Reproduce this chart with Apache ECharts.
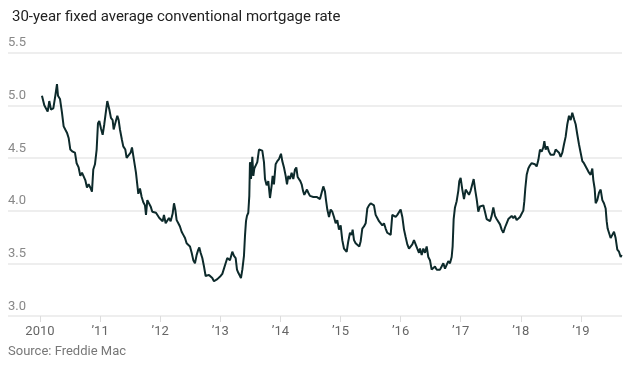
<!DOCTYPE html>
<html>
<head>
<meta charset="utf-8">
<script src="https://cdn.jsdelivr.net/npm/echarts@6/dist/echarts.min.js"></script>
<style>
html,body{margin:0;padding:0;background:#fff;}
#chart{width:628px;height:371px;}
</style>
</head>
<body>
<div id="chart"></div>
<script>
// Time of each observation, as decimal year
var weeks = [
2010.033,2010.072,2010.100,2010.128,2010.155,2010.183,2010.222,2010.255,2010.283,2010.300,
2010.333,2010.366,2010.394,2010.421,2010.449,2010.477,2010.505,2010.544,2010.582,2010.610,
2010.643,2010.671,2010.699,2010.726,2010.754,2010.782,2010.810,2010.837,2010.865,2010.887,
2010.915,2010.943,2010.965,2010.987,2011.015,2011.043,2011.070,2011.098,2011.120,2011.154,
2011.181,2011.209,2011.226,2011.253,2011.287,2011.309,2011.331,2011.364,2011.386,2011.420,
2011.442,2011.475,2011.508,2011.531,2011.553,2011.575,2011.597,
2011.636,2011.664,2011.692,2011.719,2011.747,2011.764,2011.786,2011.814,2011.841,2011.869,
2011.897,2011.930,2011.958,2011.986,2012.013,2012.041,2012.063,2012.091,2012.119,2012.146,
2012.174,2012.207,2012.230,2012.252,2012.274,2012.302,2012.329,2012.357,2012.385,2012.413,
2012.440,2012.468,2012.496,2012.524,2012.551,2012.579,2012.607,2012.634,2012.651,2012.673,
2012.701,2012.729,2012.756,2012.784,2012.812,2012.840,2012.867,2012.895,2012.923,2012.951,
2012.978,2013.006,2013.034,2013.061,2013.089,2013.117,2013.145,2013.161,
2013.178,2013.200,2013.228,2013.256,2013.278,2013.300,2013.328,2013.344,2013.367,2013.394,
2013.411,2013.428,2013.444,2013.466,2013.483,2013.494,2013.511,2013.533,2013.550,2013.566,
2013.594,2013.616,2013.644,2013.672,2013.699,2013.727,2013.744,2013.771,2013.799,2013.827,
2013.855,2013.871,2013.893,2013.921,2013.949,2013.977,2014.010,2014.032,2014.060,2014.088,
2014.110,2014.132,2014.160,2014.187,2014.215,2014.243,2014.265,2014.287,2014.309,2014.332,
2014.354,2014.376,2014.398,2014.420,2014.442,2014.465,2014.492,2014.520,2014.548,2014.576,
2014.603,2014.631,2014.659,2014.687,2014.714,2014.742,
2014.759,2014.781,2014.809,2014.836,2014.864,2014.892,2014.920,2014.947,2014.975,2015.003,
2015.030,2015.058,2015.086,2015.103,2015.130,2015.158,2015.186,2015.202,2015.225,2015.252,
2015.280,2015.313,2015.336,2015.363,2015.391,2015.419,2015.446,2015.474,2015.502,2015.530,
2015.557,2015.585,2015.613,2015.641,2015.668,2015.696,2015.724,2015.751,2015.779,2015.807,
2015.835,2015.862,2015.890,2015.918,2015.946,2015.973,2016.001,2016.029,2016.057,2016.084,
2016.112,2016.140,2016.167,2016.195,2016.223,2016.251,2016.278,2016.306,2016.323,
2016.351,2016.378,2016.406,2016.434,2016.461,2016.489,2016.517,2016.545,2016.572,2016.600,
2016.628,2016.656,2016.683,2016.711,2016.739,2016.766,2016.794,2016.822,2016.850,2016.866,
2016.883,2016.905,2016.933,2016.961,2016.977,2016.999,2017.027,2017.055,2017.083,2017.110,
2017.138,2017.166,2017.194,2017.216,2017.243,2017.266,2017.293,2017.321,2017.349,2017.377,
2017.404,2017.432,2017.460,2017.488,2017.515,2017.543,2017.571,2017.598,2017.626,2017.654,
2017.682,2017.709,2017.737,2017.765,2017.793,2017.820,2017.848,2017.876,2017.903,
2017.931,2017.959,2017.987,2018.014,2018.042,2018.059,2018.075,2018.098,2018.125,2018.153,
2018.181,2018.209,2018.236,2018.264,2018.292,2018.319,2018.347,2018.375,2018.392,2018.414,
2018.441,2018.469,2018.497,2018.525,2018.552,2018.580,2018.608,2018.636,2018.663,2018.691,
2018.719,2018.746,2018.774,2018.802,2018.830,2018.857,2018.874,2018.891,2018.913,2018.941,
2018.968,2018.996,2019.024,2019.051,2019.079,2019.107,2019.135,2019.162,2019.190,2019.207,
2019.229,2019.246,2019.273,2019.301,2019.329,2019.357,2019.384,2019.412,2019.429,2019.445,
2019.473,2019.495,2019.523,2019.551,2019.578,2019.606,2019.634,2019.662,2019.678
];
// 30-year fixed rate, %
var rates = [
5.09,5.00,5.00,4.94,5.04,4.96,4.97,5.09,5.20,5.09,
5.06,4.93,4.80,4.77,4.74,4.69,4.58,4.56,4.55,4.45,
4.41,4.33,4.36,4.37,4.29,4.22,4.25,4.22,4.18,4.39,
4.44,4.58,4.83,4.85,4.78,4.72,4.82,4.83,5.04,4.96,
4.88,4.86,4.77,4.83,4.90,4.86,4.77,4.67,4.61,4.58,
4.50,4.50,4.55,4.60,4.52,4.53,4.36,
4.16,4.21,4.13,4.08,4.05,3.96,4.10,4.11,4.04,3.99,
4.00,3.98,3.99,3.93,3.94,3.90,3.96,3.88,3.88,3.93,
3.90,3.97,4.07,4.01,3.91,3.88,3.85,3.80,3.77,3.74,
3.69,3.68,3.66,3.60,3.53,3.50,3.58,3.63,3.65,3.60,
3.55,3.47,3.38,3.38,3.39,3.40,3.36,3.33,3.33,3.35,
3.36,3.38,3.40,3.41,3.50,3.55,3.56,3.53,
3.52,3.61,3.57,3.55,3.44,3.41,3.38,3.36,3.44,3.57,
3.76,3.90,3.95,3.98,4.14,4.46,4.30,4.51,4.33,4.40,
4.41,4.46,4.58,4.57,4.57,4.46,4.30,4.24,4.28,4.12,
4.24,4.33,4.25,4.44,4.47,4.49,4.54,4.47,4.41,4.33,
4.25,4.33,4.30,4.36,4.30,4.39,4.41,4.32,4.33,4.28,
4.25,4.19,4.15,4.14,4.20,4.17,4.14,4.15,4.13,4.13,
4.13,4.12,4.11,4.12,4.23,4.18,
4.10,4.01,3.94,4.01,3.99,3.94,3.88,3.91,3.82,3.86,
3.72,3.64,3.63,3.61,3.71,3.79,3.77,3.82,3.72,3.69,
3.68,3.66,3.71,3.83,3.85,3.88,4.02,4.05,4.07,4.08,
4.05,3.96,3.93,3.90,3.91,3.86,3.88,3.83,3.79,3.80,
3.77,3.96,3.97,3.94,3.96,3.97,4.01,3.94,3.82,3.75,
3.68,3.64,3.63,3.68,3.72,3.71,3.64,3.60,3.64,
3.58,3.64,3.60,3.66,3.56,3.53,3.44,3.45,3.47,3.44,
3.45,3.44,3.47,3.50,3.45,3.44,3.52,3.50,3.56,3.66,
3.92,4.03,4.09,4.19,4.28,4.31,4.20,4.11,4.20,4.19,
4.15,4.19,4.20,4.30,4.19,4.11,3.99,4.04,4.03,4.05,
3.99,3.92,3.92,3.90,3.95,4.03,3.95,3.92,3.92,3.87,
3.82,3.79,3.84,3.88,3.92,3.93,3.95,3.93,3.95,
3.91,3.92,3.94,3.97,4.00,4.09,4.21,4.34,4.40,4.43,
4.45,4.45,4.44,4.42,4.48,4.58,4.56,4.60,4.66,4.58,
4.61,4.56,4.53,4.52,4.53,4.58,4.59,4.55,4.51,4.55,
4.63,4.70,4.82,4.90,4.86,4.93,4.94,4.86,4.82,4.72,
4.63,4.55,4.47,4.45,4.45,4.39,4.36,4.34,4.40,4.29,
4.21,4.07,4.10,4.17,4.20,4.10,4.07,4.02,3.90,3.83,
3.84,3.74,3.77,3.80,3.74,3.63,3.61,3.56,3.58
];
var yearTicks = [2010,2011,2012,2013,2014,2015,2016,2017,2018,2019];
var titleText = '30-year fixed average conventional mortgage rate';
var sourceText = 'Source: Freddie Mac';

var chart = echarts.init(document.getElementById('chart'), null, {renderer:'canvas'});
var FONT = 'Roboto, "Noto Sans", sans-serif';
chart.setOption({
  animation: false,
  backgroundColor: '#ffffff',
  title: {
    text: titleText, left: 7, top: 5,
    textStyle: {fontFamily: FONT, fontSize: 15, fontWeight: 'normal', color: '#222222'}
  },
  graphic: [{
    type: 'text', left: 8, top: 345,
    style: {text: sourceText, font: '13px ' + FONT, fill: '#777777'}
  }],
  grid: {left: 8, right: 6, top: 52.6, bottom: 55, containLabel: false},
  xAxis: {
    type: 'value', min: 2009.468, max: 2019.684,
    splitLine: {show: false},
    axisLine: {show: false},
    axisTick: {show: true, customValues: yearTicks, length: 6, lineStyle: {color: '#dddddd', width: 1}},
    axisLabel: {
      customValues: yearTicks, margin: 9, color: '#666666', fontSize: 13, fontFamily: FONT,
      formatter: function (v) { return v === 2010 ? '2010' : '\u2019' + String(v).slice(2); }
    }
  },
  yAxis: {
    type: 'value', min: 3, max: 5.5, interval: 0.5,
    axisLine: {show: false}, axisTick: {show: false},
    splitLine: {show: true, lineStyle: {color: '#eeeeee', width: 2}},
    axisLabel: {
      inside: true, margin: 0, verticalAlign: 'bottom', padding: [0, 0, 3, 0],
      color: '#888888', fontSize: 13, fontFamily: FONT,
      formatter: function (v) { return v.toFixed(1); }
    }
  },
  series: [{
    type: 'line', showSymbol: false,
    data: weeks.map(function (w, i) { return [w, rates[i]]; }),
    lineStyle: {color: '#0d2a2b', width: 2},
    itemStyle: {color: '#0d2a2b'}
  }]
});
</script>
</body>
</html>
